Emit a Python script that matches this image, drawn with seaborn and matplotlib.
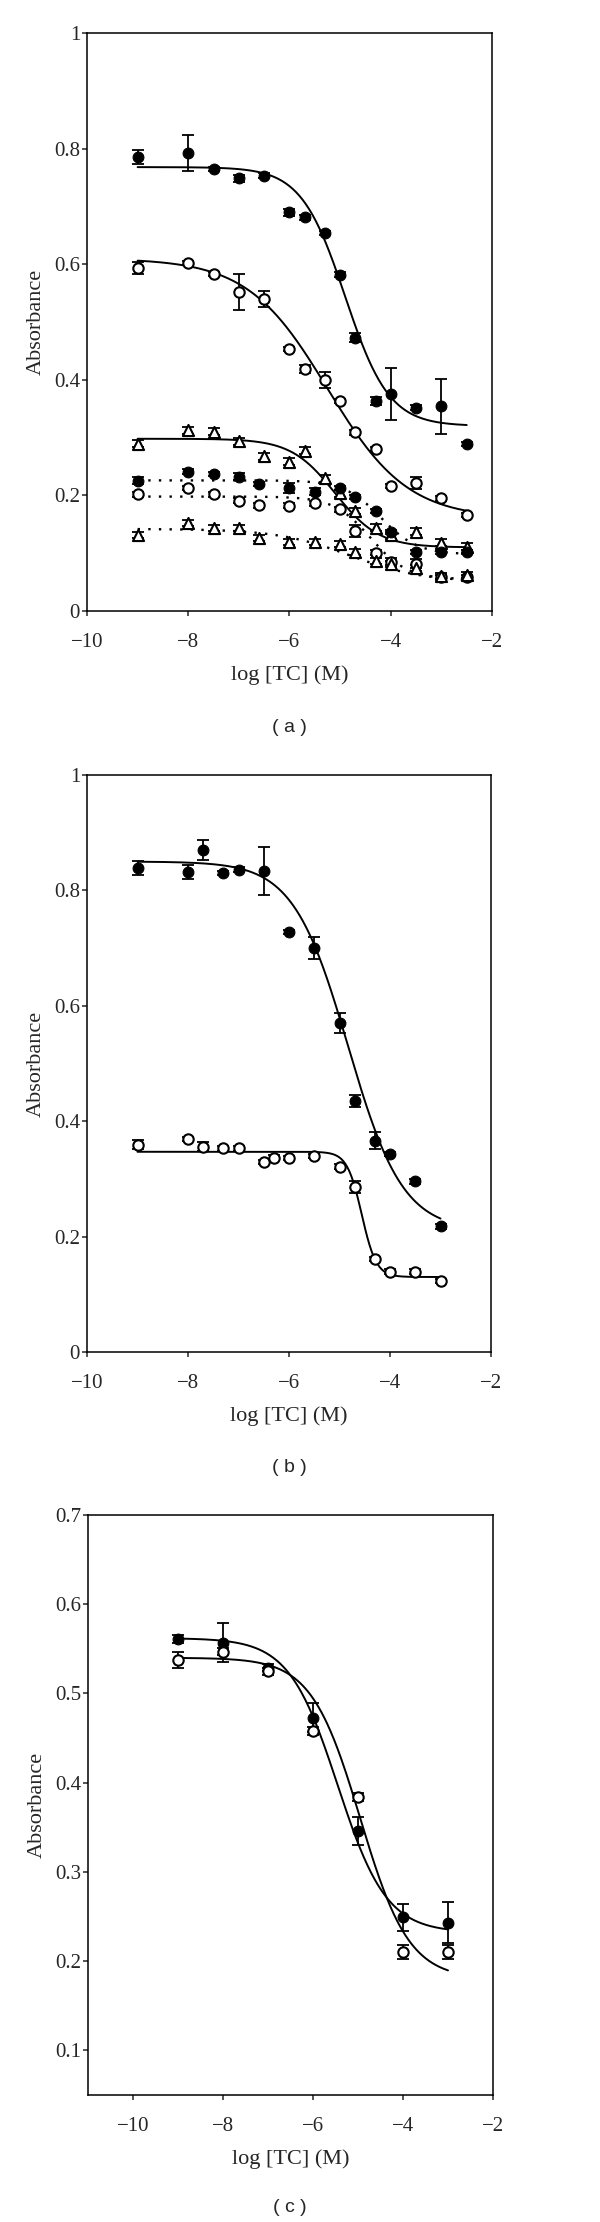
import numpy as np
import pandas as pd
import matplotlib
matplotlib.use("Agg")
import matplotlib.pyplot as plt
import seaborn as sns

# ---------------- data ----------------
# Panel (a)
a_x_up = [-9, -8, -7.5, -7, -6.5, -6, -5.7, -5.3, -5, -4.7, -4.3, -4, -3.5, -3, -2.5]
a_fill_up = [0.786, 0.792, 0.765, 0.749, 0.753, 0.690, 0.681, 0.654, 0.582, 0.473,
             0.363, 0.375, 0.352, 0.354, 0.289]
a_fill_up_err = [0.012, 0.031, 0.004, 0.006, 0.004, 0.006, 0.004, 0.004, 0.004, 0.008,
                 0.007, 0.045, 0.004, 0.048, 0.004]
a_open_up = [0.593, 0.602, 0.583, 0.552, 0.540, 0.453, 0.418, 0.400, 0.363, 0.309,
             0.280, 0.216, 0.221, 0.195, 0.166]
a_open_up_err = [0.010, 0.004, 0.004, 0.031, 0.014, 0.004, 0.007, 0.014, 0.004, 0.004,
                 0.004, 0.004, 0.010, 0.004, 0.004]
a_tri_up = [0.289, 0.313, 0.310, 0.294, 0.268, 0.258, 0.277, 0.230, 0.204, 0.173,
            0.144, 0.131, 0.137, 0.118, 0.111]
a_tri_up_err = [0.006] * 15

a_x_low = [-9, -8, -7.5, -7, -6.6, -6, -5.5, -5, -4.7, -4.3, -4, -3.5, -3, -2.5]
a_fill_low = [0.225, 0.241, 0.237, 0.232, 0.220, 0.213, 0.206, 0.213, 0.197, 0.173,
              0.137, 0.102, 0.102, 0.102]
a_fill_low_err = [0.006, 0.004, 0.004, 0.006, 0.004, 0.009, 0.006, 0.004, 0.004, 0.004,
                  0.004, 0.004, 0.004, 0.004]
a_open_low = [0.202, 0.213, 0.202, 0.191, 0.183, 0.182, 0.186, 0.176, 0.138, 0.101,
              0.085, 0.082, 0.058, 0.058]
a_open_low_err = [0.004, 0.004, 0.004, 0.004, 0.004, 0.004, 0.004, 0.004, 0.010, 0.004,
                  0.006, 0.008, 0.004, 0.004]
a_tri_low = [0.131, 0.152, 0.144, 0.144, 0.126, 0.119, 0.119, 0.116, 0.102, 0.086,
             0.081, 0.075, 0.060, 0.062]
a_tri_low_err = [0.005] * 14

# fitted sigmoid parameters: (top, bottom, logIC50, hill)
a_fit_fill_up = (0.768, 0.320, -4.90, 1.0)
a_fit_open_up = (0.610, 0.160, -5.25, 0.55)
a_fit_tri_up = (0.298, 0.110, -5.10, 1.0)
a_fit_fill_low = (0.226, 0.098, -4.20, 1.2)
a_fit_open_low = (0.198, 0.055, -4.40, 1.2)
a_fit_tri_low = (0.142, 0.050, -4.80, 0.6)

# Panel (b)
b_x_fill = [-9, -8, -7.7, -7.3, -7, -6.5, -6, -5.5, -5, -4.7, -4.3, -4, -3.5, -3]
b_fill = [0.839, 0.832, 0.870, 0.830, 0.836, 0.834, 0.728, 0.700, 0.570, 0.435,
          0.366, 0.343, 0.296, 0.218]
b_fill_err = [0.012, 0.012, 0.017, 0.004, 0.004, 0.042, 0.004, 0.019, 0.017, 0.010,
              0.015, 0.004, 0.004, 0.004]
b_x_open = [-9, -8, -7.7, -7.3, -7, -6.5, -6.3, -6, -5.5, -5, -4.7, -4.3, -4, -3.5, -3]
b_open = [0.359, 0.369, 0.356, 0.353, 0.353, 0.329, 0.337, 0.336, 0.340, 0.321,
          0.286, 0.161, 0.139, 0.139, 0.123]
b_open_err = [0.008, 0.004, 0.008, 0.004, 0.004, 0.004, 0.004, 0.004, 0.004, 0.004,
              0.010, 0.004, 0.004, 0.004, 0.004]
b_fit_fill = (0.850, 0.210, -4.83, 0.8)
b_fit_open = (0.347, 0.130, -4.56, 3.0)

# Panel (c)
c_x = [-9, -8, -7, -6, -5, -4, -3]
c_fill = [0.561, 0.557, 0.529, 0.473, 0.346, 0.249, 0.243]
c_fill_err = [0.004, 0.022, 0.004, 0.016, 0.016, 0.015, 0.023]
c_open = [0.537, 0.547, 0.525, 0.458, 0.384, 0.210, 0.210]
c_open_err = [0.009, 0.004, 0.004, 0.004, 0.005, 0.008, 0.008]
c_fit_fill = (0.562, 0.232, -5.45, 0.8)
c_fit_open = (0.540, 0.180, -4.95, 0.8)

a_yticks = [0, 0.2, 0.4, 0.6, 0.8, 1]
c_yticks = [0.1, 0.2, 0.3, 0.4, 0.5, 0.6, 0.7]
xticks = [-10, -8, -6, -4, -2]
captions = ["( a )", "( b )", "( c )"]

# ---------------- style ----------------
sns.set_style("ticks")
plt.rcParams["font.family"] = ["Liberation Serif", "DejaVu Serif"]
plt.rcParams["axes.linewidth"] = 1.1
plt.rcParams["xtick.major.width"] = 1.1
plt.rcParams["ytick.major.width"] = 1.1
plt.rcParams["xtick.major.size"] = 3.5
plt.rcParams["ytick.major.size"] = 3.5
plt.rcParams["xtick.direction"] = "out"
plt.rcParams["ytick.direction"] = "out"

fig = plt.figure(figsize=(6.0, 22.22), dpi=100)
W, H = 600.0, 2222.0


def add_ax(l, r, t, b):
    return fig.add_axes([l / W, 1 - b / H, (r - l) / W, (b - t) / H])


axA = add_ax(87, 492, 33, 611)
axB = add_ax(87, 491, 775, 1352)
axC = add_ax(88, 493, 1515, 2095)


def sigmoid_curve(ax, params, x0, x1, ls="-"):
    top, bot, c, h = params
    xs = np.linspace(x0, x1, 300)
    ys = bot + (top - bot) / (1 + 10 ** ((xs - c) * h))
    df = pd.DataFrame({"x": xs, "y": ys})
    sns.lineplot(data=df, x="x", y="y", ax=ax, color="black",
                 lw=1.4 if ls == "-" else 1.7,
                 linestyle=ls, zorder=2, sort=False, estimator=None)


def points(ax, xs, ys, err, kind):
    ax.errorbar(xs, ys, yerr=err, fmt="none", ecolor="black", elinewidth=1.3,
                capsize=4.5, capthick=1.3, zorder=3)
    df = pd.DataFrame({"x": xs, "y": ys})
    if kind == "filled":
        sns.scatterplot(data=df, x="x", y="y", ax=ax, marker="o", s=60,
                        color="black", edgecolor="black", linewidth=0.8, zorder=4)
    elif kind == "open":
        sns.scatterplot(data=df, x="x", y="y", ax=ax, marker="o", s=56,
                        facecolor="white", edgecolor="black", linewidth=1.5, zorder=4)
    else:
        sns.scatterplot(data=df, x="x", y="y", ax=ax, marker="^", s=64,
                        facecolor="white", edgecolor="black", linewidth=1.5, zorder=4)


dotted = (0, (1, 3.5))

# Panel a
sigmoid_curve(axA, a_fit_fill_up, -9, -2.5)
sigmoid_curve(axA, a_fit_open_up, -9, -2.5)
sigmoid_curve(axA, a_fit_tri_up, -9, -2.5)
sigmoid_curve(axA, a_fit_fill_low, -9, -2.5, dotted)
sigmoid_curve(axA, a_fit_open_low, -9, -2.5, dotted)
sigmoid_curve(axA, a_fit_tri_low, -9, -2.5, dotted)
points(axA, a_x_up, a_fill_up, a_fill_up_err, "filled")
points(axA, a_x_up, a_open_up, a_open_up_err, "open")
points(axA, a_x_up, a_tri_up, a_tri_up_err, "tri")
points(axA, a_x_low, a_fill_low, a_fill_low_err, "filled")
points(axA, a_x_low, a_open_low, a_open_low_err, "open")
points(axA, a_x_low, a_tri_low, a_tri_low_err, "tri")

# Panel b
sigmoid_curve(axB, b_fit_fill, -9, -3)
sigmoid_curve(axB, b_fit_open, -9, -3)
points(axB, b_x_fill, b_fill, b_fill_err, "filled")
points(axB, b_x_open, b_open, b_open_err, "open")

# Panel c
sigmoid_curve(axC, c_fit_fill, -9, -3)
sigmoid_curve(axC, c_fit_open, -9, -3)
points(axC, c_x, c_fill, c_fill_err, "filled")
points(axC, c_x, c_open, c_open_err, "open")


def fmt(v):
    return f"{v:g}"


for ax, xl, yl, yt in [(axA, (-10, -2), (0, 1), a_yticks),
                       (axB, (-10, -2), (0, 1), a_yticks),
                       (axC, (-11, -2), (0.05, 0.7), c_yticks)]:
    ax.set_xlim(*xl)
    ax.set_ylim(*yl)
    ax.set_xticks(xticks)
    ax.set_xticklabels([fmt(v).replace("-", "\u2212") for v in xticks])
    ax.set_yticks(yt)
    ax.set_yticklabels([fmt(v) for v in yt])
    ax.tick_params(axis="both", labelsize=15, top=False, right=False)
    ax.tick_params(axis="x", pad=12)
    ax.tick_params(axis="y", pad=1.5)
    ax.set_xlabel("log [TC] (M)", fontsize=16, labelpad=10)
    ax.set_ylabel("Absorbance", fontsize=16, labelpad=6)
    for s in ["top", "right", "left", "bottom"]:
        ax.spines[s].set_visible(True)
        ax.spines[s].set_color("black")

for cap, y in zip(captions, [727, 1467, 2207]):
    fig.text((87 + 492) / 2 / W, 1 - y / H, cap, ha="center", va="center",
             fontsize=14, family=["Liberation Sans", "DejaVu Sans"])

fig.savefig("out.png", dpi=100, facecolor="white")
